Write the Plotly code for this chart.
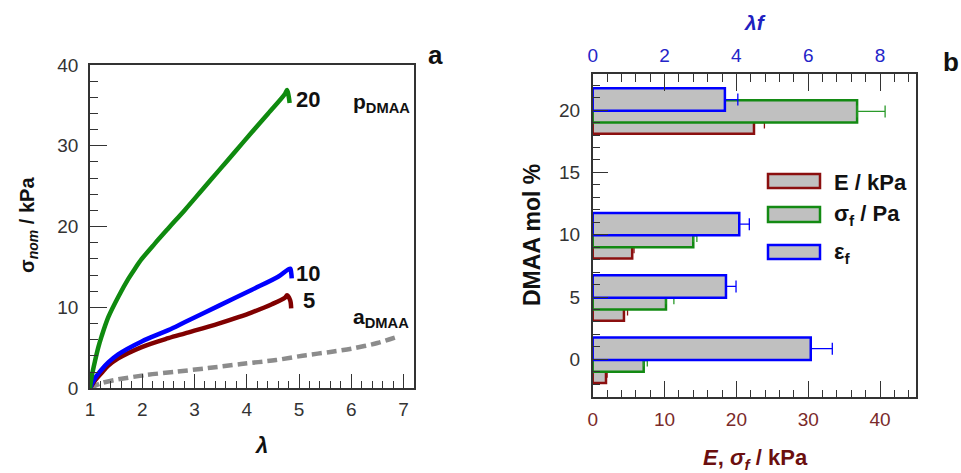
import plotly.graph_objects as go

# ---------------- Panel a: stress-strain curves ----------------
lam_p20 = [1.0, 1.03, 1.1, 1.16, 1.22, 1.35, 1.54, 1.73, 1.86, 1.99, 2.24, 2.5, 2.82, 3.14, 3.46, 3.78, 4.1, 4.41, 4.73, 4.77, 4.8, 4.82]
sig_p20 = [0.0, 1.4, 3.5, 5.1, 6.4, 8.8, 11.3, 13.5, 14.8, 16.0, 17.9, 19.8, 22.1, 24.5, 26.9, 29.3, 31.7, 34.0, 36.4, 36.9, 36.2, 35.3]

lam_p10 = [1.0, 1.1, 1.22, 1.35, 1.54, 1.99, 2.5, 2.82, 3.46, 4.1, 4.6, 4.83, 4.85, 4.86]
sig_p10 = [0.0, 1.3, 2.3, 3.2, 4.2, 5.8, 7.2, 8.2, 10.2, 12.2, 13.8, 14.8, 14.3, 13.6]

lam_p5 = [1.0, 1.1, 1.22, 1.35, 1.54, 1.99, 2.5, 2.82, 3.46, 3.84, 4.1, 4.48, 4.73, 4.77, 4.83, 4.85]
sig_p5 = [0.0, 1.0, 1.9, 2.8, 3.7, 5.1, 6.2, 6.8, 8.0, 8.8, 9.4, 10.4, 11.2, 11.5, 10.9, 9.9]

lam_a = [1.0, 1.2, 1.45, 2.08, 2.66, 3.26, 3.89, 4.56, 5.14, 5.6, 6.0, 6.5, 6.9]
sig_a = [0.0, 0.6, 1.0, 1.65, 2.06, 2.5, 3.0, 3.5, 4.1, 4.5, 4.9, 5.6, 6.4]

# ---------------- Panel b: bar chart ----------------
dmaa_mol = [0, 5, 10, 20]
E_kPa = [1.85, 4.35, 5.5, 22.45]
E_err = [0.15, 0.5, 0.25, 1.45]
sigma_f = [7.1, 10.2, 14.0, 36.8]
sigma_err = [0.5, 1.1, 0.5, 3.9]
eps_f = [6.07, 3.71, 4.08, 3.68]
eps_err = [0.6, 0.28, 0.28, 0.36]

RED = "#8b0f0f"
GREEN = "#138a13"
BLUE = "#0000ff"
GRAY = "#c0c0c0"
FONT = "Liberation Sans, Arial, sans-serif"
W, H = 961, 473
TICKFS = 19


def px(x):
    return x / W


def py(y):
    return 1 - y / H


fig = go.Figure()

fig.add_trace(go.Scatter(x=lam_a, y=sig_a, mode="lines", line=dict(color="#8c8c8c", width=4.5, dash="10px,5px", shape="spline", smoothing=0.8),
                         xaxis="x", yaxis="y", showlegend=False))
fig.add_trace(go.Scatter(x=lam_p5, y=sig_p5, mode="lines", line=dict(color="#800000", width=4.5, shape="spline", smoothing=0.9),
                         xaxis="x", yaxis="y", showlegend=False))
fig.add_trace(go.Scatter(x=lam_p10, y=sig_p10, mode="lines", line=dict(color=BLUE, width=4.5, shape="spline", smoothing=0.9),
                         xaxis="x", yaxis="y", showlegend=False))
fig.add_trace(go.Scatter(x=lam_p20, y=sig_p20, mode="lines", line=dict(color="#0f8a0f", width=4.5, shape="spline", smoothing=0.9),
                         xaxis="x", yaxis="y", showlegend=False))

BW = 1.8
fig.add_trace(go.Bar(y=dmaa_mol, x=E_kPa, orientation="h", width=BW, offset=-1.9,
                     marker=dict(color=GRAY, line=dict(color=RED, width=2.5)),
                     error_x=dict(type="data", array=E_err, symmetric=False, arrayminus=[0] * 4,
                                  color=RED, thickness=1.3, width=6),
                     xaxis="x2", yaxis="y2", showlegend=False))
fig.add_trace(go.Bar(y=dmaa_mol, x=sigma_f, orientation="h", width=BW, offset=-1.0,
                     marker=dict(color=GRAY, line=dict(color=GREEN, width=2.5)),
                     error_x=dict(type="data", array=sigma_err, symmetric=False, arrayminus=[0] * 4,
                                  color="#2a9a2a", thickness=1.3, width=6),
                     xaxis="x2", yaxis="y2", showlegend=False))
fig.add_trace(go.Bar(y=dmaa_mol, x=eps_f, orientation="h", width=BW, offset=-0.05,
                     marker=dict(color=GRAY, line=dict(color=BLUE, width=2.5)),
                     error_x=dict(type="data", array=eps_err, symmetric=False, arrayminus=[0] * 4,
                                  color=BLUE, thickness=1.3, width=6),
                     xaxis="x3", yaxis="y2", showlegend=False))

axline = dict(showline=True, linecolor="#333", linewidth=1.5, mirror=True, ticks="inside",
              tickcolor="#333", tickwidth=1.3, showgrid=False, zeroline=False, automargin=False)

fig.update_layout(
    width=W, height=H, margin=dict(l=0, r=0, t=0, b=0),
    paper_bgcolor="white", plot_bgcolor="white",
    barmode="overlay",
    font=dict(family=FONT, size=TICKFS, color="#333"),
    xaxis=dict(domain=[px(90), px(414)], anchor="y", range=[1, 7.2], dtick=1, ticklen=15,
               minor=dict(dtick=0.2, ticklen=8, ticks="inside", tickcolor="#333", tickwidth=1.2),
               tickfont=dict(size=TICKFS, color="#333"), ticklabelstandoff=3, **axline),
    yaxis=dict(domain=[py(388.3), py(65)], anchor="x", range=[0, 40], dtick=10, ticklen=17,
               minor=dict(dtick=2, ticklen=8, ticks="inside", tickcolor="#333", tickwidth=1.2),
               tickfont=dict(size=TICKFS, color="#333"), ticklabelstandoff=6, **axline),
    xaxis2=dict(domain=[px(592.7), px(916)], anchor="y2", range=[0, 45], dtick=10, ticklen=17,
                minor=dict(dtick=2, ticklen=8, ticks="inside", tickcolor="#333", tickwidth=1.2),
                tickfont=dict(size=TICKFS, color="#7a2a2a"), ticklabelstandoff=4, **axline),
    xaxis3=dict(domain=[px(592.7), px(916)], anchor="y2", overlaying="x2", side="top",
                range=[0, 9], dtick=2, ticklen=17,
                minor=dict(dtick=0.4, ticklen=8, ticks="inside", tickcolor="#333", tickwidth=1.2),
                tickfont=dict(size=TICKFS, color="#2424c8"), ticklabelstandoff=3, **axline),
    yaxis2=dict(domain=[py(397.3), py(74)], anchor="x2", range=[-3.05, 22.9], dtick=5, ticklen=16,
                minor=dict(dtick=1, ticklen=8, ticks="inside", tickcolor="#333", tickwidth=1.2),
                tickfont=dict(size=TICKFS, color="#333"), ticklabelstandoff=7, **axline),
)

# Legend drawn as swatches + text
leg_rows = [(174, 188, RED, "<b>E / kPa</b>"),
            (207, 222, GREEN, "<b>σ<sub>f</sub> / Pa</b>"),
            (245, 259, BLUE, "<b>ε<sub>f</sub></b>")]
for y0, y1, col, label in leg_rows:
    fig.add_shape(type="rect", xref="paper", yref="paper", x0=px(768), x1=px(820), y0=py(y1), y1=py(y0),
                  fillcolor=GRAY, line=dict(color=col, width=2.5))
    fig.add_annotation(xref="paper", yref="paper", x=px(832), y=py((y0 + y1) / 2 + 1), text=label,
                       showarrow=False, xanchor="left", yanchor="middle",
                       font=dict(size=22, color="#111", family=FONT))

ann = [
    # panel a
    dict(x=px(28), y=py(225), text="<b>σ<sub><i>nom</i></sub> / kPa</b>", textangle=-90, size=20, color="#111"),
    dict(x=px(261), y=py(445), text="<b><i>λ</i></b>", size=22, color="#111"),
    dict(x=px(435), y=py(55), text="<b>a</b>", size=26, color="#111"),
    dict(x=px(294), y=py(100), text="<b>20</b>", size=22, color="#111", xanchor="left"),
    dict(x=px(294), y=py(273), text="<b>10</b>", size=22, color="#111", xanchor="left"),
    dict(x=px(301), y=py(300), text="<b>5</b>", size=22, color="#111", xanchor="left"),
    dict(x=px(351), y=py(103), text="<b>p<sub>DMAA</sub></b>", size=21, color="#111", xanchor="left"),
    dict(x=px(351), y=py(318), text="<b>a<sub>DMAA</sub></b>", size=21, color="#111", xanchor="left"),
    # panel b
    dict(x=px(532), y=py(235), text="<b>DMAA mol %</b>", textangle=-90, size=23, color="#111"),
    dict(x=px(755), y=py(459), text="<b><i>E</i>, <i>σ<sub>f</sub></i> / kPa</b>", size=22, color="#6b0f0f"),
    dict(x=px(755), y=py(23), text="<b><i>λf</i></b>", size=21, color="#2020c0"),
    dict(x=px(951), y=py(62), text="<b>b</b>", size=26, color="#111"),
]
for a in ann:
    fig.add_annotation(xref="paper", yref="paper", x=a["x"], y=a["y"], text=a["text"], showarrow=False,
                       textangle=a.get("textangle", 0), xanchor=a.get("xanchor", "center"), yanchor="middle",
                       font=dict(size=a["size"], color=a["color"], family=FONT))

fig.write_html("out.html", config={"displayModeBar": False},
               post_script="document.body.style.margin='0px';document.body.style.overflow='hidden';")
